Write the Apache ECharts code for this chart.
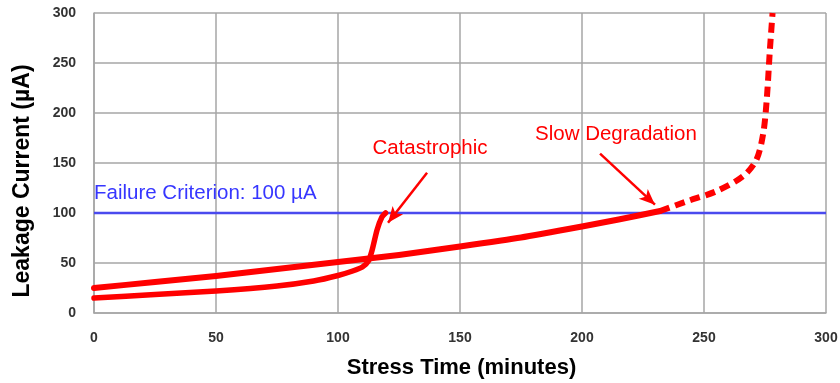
<!DOCTYPE html>
<html><head><meta charset="utf-8">
<script src="https://cdn.jsdelivr.net/npm/echarts@6/dist/echarts.min.js"></script>
<style>html,body{margin:0;padding:0;background:#fff}#c{width:840px;height:383px}</style>
</head><body><div id="c"></div>
<script>
// Data
const xTicks = [0, 50, 100, 150, 200, 250, 300];
const yTicks = [0, 50, 100, 150, 200, 250, 300];
const slowX = [0, 25, 50, 75, 100, 125, 150, 175, 200, 215, 232];
const slowY = [25, 31, 37, 44, 51, 58, 66.5, 75.5, 86.5, 93.5, 102];
const slowDashX = [232, 243, 255, 266, 271.5, 274.3, 275.7, 277, 278.1];
const slowDashY = [102, 111.7, 121.7, 136.7, 153.3, 180, 213, 263, 300];
const catX = [0, 25, 50, 75, 90, 100, 106, 110, 112.5, 114, 116, 118, 119.5];
const catY = [15, 18.5, 22, 27, 32, 37.5, 42, 46, 52, 63, 83, 96, 100];
const criterionX = [0, 300];
const criterionY = [100, 100];
const labels = ['Failure Criterion: 100 µA', 'Catastrophic', 'Slow Degradation'];
const labelPos = [[0, 120], [137.7, 164.5], [213.9, 178.5]];
const arrows = [[[136.5, 140.3], [120.5, 90.3]], [[207.4, 159.3], [229.9, 108.3]]];

const zip = (a, b) => a.map((v, i) => [v, b[i]]);
const RED = '#ff0000';
const BLUE = '#4a4aee';
const GRID = '#a6a6a6';

const chart = echarts.init(document.getElementById('c'));
chart.setOption({
  animation: false,
  grid: { left: 94, right: 14, top: 13, bottom: 70, outerBoundsMode: 'none', containLabel: false },
  xAxis: {
    type: 'value', min: 0, max: 300, interval: 50,
    name: 'Stress Time (minutes)', nameLocation: 'middle', nameGap: 44,
    nameTextStyle: { fontFamily: 'Liberation Sans', fontWeight: 'bold', fontSize: 22, color: '#000', padding: [0, 0, 0, 3] },
    axisLine: { show: true, lineStyle: { color: GRID, width: 1.5 } },
    axisTick: { show: false },
    axisLabel: { margin: 18, fontFamily: 'Liberation Sans', fontWeight: 'bold', fontSize: 14, color: '#333',
      formatter: v => xTicks.includes(v) ? String(v) : '' },
    splitLine: { show: true, lineStyle: { color: GRID, width: 1.5 } }
  },
  yAxis: {
    type: 'value', min: 0, max: 300, interval: 50,
    name: 'Leakage Current (µA)', nameLocation: 'middle', nameGap: 60, nameRotate: 90,
    nameTextStyle: { fontFamily: 'Liberation Sans', fontWeight: 'bold', fontSize: 23, color: '#000', padding: [0, 36, 0, 0] },
    axisLine: { show: true, lineStyle: { color: GRID, width: 1.5 } },
    axisTick: { show: false },
    axisLabel: { margin: 18, fontFamily: 'Liberation Sans', fontWeight: 'bold', fontSize: 14, color: '#333',
      formatter: v => yTicks.includes(v) ? String(v) : '' },
    splitLine: { show: true, lineStyle: { color: GRID, width: 1.5 } }
  },
  series: [
    {
      type: 'line', data: zip(criterionX, criterionY), showSymbol: false, z: 3,
      lineStyle: { color: BLUE, width: 2.5 },
      markPoint: {
        symbolSize: 0,
        data: [{ coord: labelPos[0], label: { show: true, formatter: labels[0], position: 'right', distance: 0,
          color: '#3636ff', fontFamily: 'Liberation Sans', fontSize: 20.5 } }]
      }
    },
    {
      type: 'line', data: zip(catX, catY), showSymbol: false, smooth: 0.2, z: 4,
      lineStyle: { color: RED, width: 5.5, cap: 'round', join: 'round' },
      markPoint: {
        symbolSize: 0,
        data: [
          { coord: labelPos[1], label: { show: true, formatter: labels[1], position: 'inside',
            color: RED, fontFamily: 'Liberation Sans', fontSize: 20.5 } },
          { coord: labelPos[2], label: { show: true, formatter: labels[2], position: 'inside',
            color: RED, fontFamily: 'Liberation Sans', fontSize: 20.5 } }
        ]
      },
      markLine: {
        silent: true, symbol: ['none', 'arrow'], symbolSize: [10, 16],
        label: { show: false },
        lineStyle: { color: RED, width: 2.5, type: 'solid' },
        data: arrows.map(a => [{ coord: a[0] }, { coord: a[1] }])
      }
    },
    {
      type: 'line', data: zip(slowX, slowY), showSymbol: false, smooth: 0.2, z: 4,
      lineStyle: { color: RED, width: 6, cap: 'round', join: 'round' }
    },
    {
      type: 'line', data: zip(slowDashX, slowDashY), showSymbol: false, smooth: 0.3, z: 4,
      lineStyle: { color: RED, width: 6, type: [10, 6], cap: 'butt' }
    }
  ]
});
</script></body></html>
